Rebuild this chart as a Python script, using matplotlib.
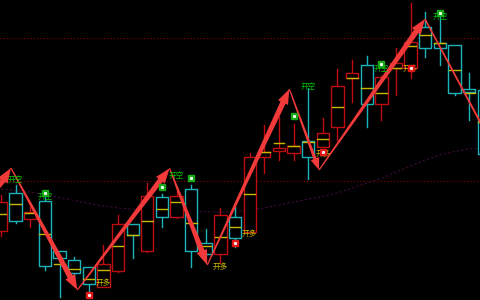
import matplotlib
matplotlib.use("Agg")
import matplotlib.pyplot as plt
from matplotlib.patches import Rectangle, Polygon
import numpy as np

plt.rcParams['font.family'] = ['Noto Sans CJK SC', 'DejaVu Sans']

# ---- data (prices) ----
opens  = [16.93, 20.70, 18.10, 19.93, 14.90, 14.00, 13.33, 11.33, 12.90, 17.60,
          14.90, 20.27, 18.27, 21.07, 15.67, 14.57, 18.27, 16.83, 24.27, 24.90,
          24.67, 25.93, 25.33, 27.27, 32.17, 33.50, 29.60, 33.23, 33.20, 37.33,
          35.73, 35.50, 31.10, 31.00]
closes = [19.83, 17.90, 18.83, 13.40, 14.23, 12.70, 11.60, 13.60, 17.60, 16.50,
          20.40, 18.27, 20.40, 14.90, 14.60, 18.50, 16.17, 24.27, 24.77, 25.20,
          25.40, 24.27, 26.67, 31.40, 32.67, 29.60, 32.33, 33.73, 35.80, 35.23,
          35.17, 30.67, 30.80, 24.60]
highs  = [20.50, 21.50, 19.30, 20.70, 14.90, 14.30, 13.33, 15.50, 18.50, 17.60,
          21.70, 20.57, 21.00, 21.50, 17.07, 19.23, 19.33, 24.73, 27.50, 28.30,
          27.60, 31.17, 28.23, 33.07, 34.00, 34.40, 32.40, 35.20, 39.70, 38.83,
          38.67, 35.50, 32.67, 31.00]
lows   = [16.40, 17.70, 17.30, 13.00, 10.30, 12.40, 10.70, 11.30, 12.80, 14.20,
          14.80, 17.33, 18.20, 13.27, 14.50, 13.70, 15.33, 16.80, 22.67, 24.00,
          24.00, 22.10, 25.30, 26.00, 29.83, 27.33, 28.00, 30.50, 32.20, 34.33,
          33.50, 30.50, 28.00, 24.00]
avg_px = [18.60, 19.60, 18.70, 16.60, 13.60, 13.10, 12.10, 13.00, 15.43, 16.50,
          17.95, 19.10, 19.77, 17.73, 15.40, 16.27, 17.33, 20.57, 24.77, 25.67,
          25.40, 25.83, 26.10, 29.35, 32.17, 31.23, 30.67, 33.23, 35.40, 36.50,
          35.67, 33.00, 30.67, 27.80]
ma_line = [21.10, 20.95, 20.80, 20.55, 20.25, 19.95, 19.65, 19.40, 19.20, 19.07,
           19.00, 18.95, 18.90, 18.85, 18.82, 18.80, 18.85, 19.00, 19.20, 19.50,
           19.80, 20.10, 20.35, 20.70, 21.20, 21.70, 22.15, 22.80, 23.40, 24.00,
           24.50, 24.85, 25.10, 25.20]

# zigzag turning points (bar position, price)
zz_x = [-0.41, 0.68, 5.22, 11.52, 14.10, 19.71, 21.74, 28.98, 33.42]
zz_y = [20.70, 23.20, 11.00, 23.17, 13.50, 31.10, 23.00, 38.10, 25.97]

# signals
short_idx = [1, 3, 12, 21, 26, 30]
short_lbl_y = [22.0, 20.3, 22.4, 31.3, 33.1, 38.3]
short_mark_idx = [3, 11, 13, 20, 26, 30]
short_mark_y = [20.67, 21.27, 22.23, 28.40, 33.57, 38.67]
long_idx = [7, 15, 17, 22, 28]
long_lbl_y = [11.7, 13.3, 16.6, 24.6, 33.1]
long_mark_idx = [6, 16, 22, 28]
long_mark_y = [10.50, 15.73, 24.83, 33.17]

# reference levels
levels = [36.17, 21.95]

# ---- styling ----
UP = '#c00c0c'
DN = '#1cb4bc'
MID = '#c8b800'
BG = 'black'

fig = plt.figure(figsize=(4.8, 3.0), dpi=100, facecolor=BG)
ax = fig.add_axes([0, 0, 1, 1])
ax.set_facecolor(BG)
ax.set_xlim(-1 / 14.63, 479 / 14.63)
ax.set_ylim(10, 40)
ax.axis('off')

for lv in levels:
    ax.axhline(lv, color='#8c0000', lw=0.8, ls=(0, (1, 2)), zorder=1)

xs = np.arange(len(opens))
ax.plot(xs, ma_line, color='#3c0c3a', lw=0.8, ls=(0, (2, 2)), zorder=1)

bw = 0.84
for i in range(len(opens)):
    o, c, h, l = opens[i], closes[i], highs[i], lows[i]
    col = UP if c >= o else DN
    top, bot = max(o, c), min(o, c)
    if h > top:
        ax.plot([i, i], [top, h], color=col, lw=1.0, zorder=2)
    if l < bot:
        ax.plot([i, i], [l, bot], color=col, lw=1.0, zorder=2)
    ax.add_patch(Rectangle((i - bw / 2, bot), bw, max(top - bot, 0.05),
                           facecolor=BG, edgecolor=col, lw=1.0, zorder=3))
    ax.plot([i - bw / 2 + 0.05, i + bw / 2 - 0.05], [avg_px[i], avg_px[i]],
            color=MID, lw=1.0, zorder=4)


def tapered_arrow(p0, p1, w0, w1, head_w, head_l, color, head=True):
    t = ax.transData
    a = t.transform(p0)
    b = t.transform(p1)
    d = b - a
    L = np.hypot(*d)
    u = d / L
    n = np.array([-u[1], u[0]])
    if head:
        base = b - u * head_l
        pts = [a + n * w0, base + n * w1, base + n * head_w, b,
               base - n * head_w, base - n * w1, a - n * w0]
    else:
        pts = [a + n * w0, b + n * w1, b - n * w1, a - n * w0]
    pts = t.inverted().transform(np.array(pts))
    ax.add_patch(Polygon(pts, closed=True, facecolor=color, edgecolor='none',
                         zorder=6))


ARROW = '#f23a3a'
nseg = len(zz_x) - 1
for k in range(nseg):
    p0 = (zz_x[k], zz_y[k])
    p1 = (zz_x[k + 1], zz_y[k + 1])
    if k == nseg - 1:
        tapered_arrow(p0, p1, 0.8, 1.0, 0, 0, ARROW, head=False)
    elif k == 5:
        tapered_arrow(p0, p1, 0.6, 1.6, 4.5, 12, ARROW)
    else:
        tapered_arrow(p0, p1, 0.6, 2.8, 5.5, 15, ARROW)

for i, y in zip(short_idx, short_lbl_y):
    ax.text(i, y, '开空', color='#00c000', fontsize=5.5, ha='center', va='center',
            zorder=7)
for i, y in zip(long_idx, long_lbl_y):
    ax.text(i, y, '开多', color='#d0bc00', fontsize=5.5, ha='center', va='center',
            zorder=7)

ax.plot(short_mark_idx, short_mark_y, ls='none', marker='s', ms=4.0,
        mfc='#18a818', mec='#18a818', zorder=8)
ax.plot(short_mark_idx, short_mark_y, ls='none', marker='s', ms=1.2,
        mfc='#e8ffe8', mec='#e8ffe8', zorder=9)
ax.plot(long_mark_idx, long_mark_y, ls='none', marker='s', ms=4.0,
        mfc='#e01818', mec='#e01818', zorder=8)
ax.plot(long_mark_idx, long_mark_y, ls='none', marker='s', ms=1.2,
        mfc='#ffe8e8', mec='#ffe8e8', zorder=9)

fig.savefig('out.png', dpi=100, facecolor=BG)
